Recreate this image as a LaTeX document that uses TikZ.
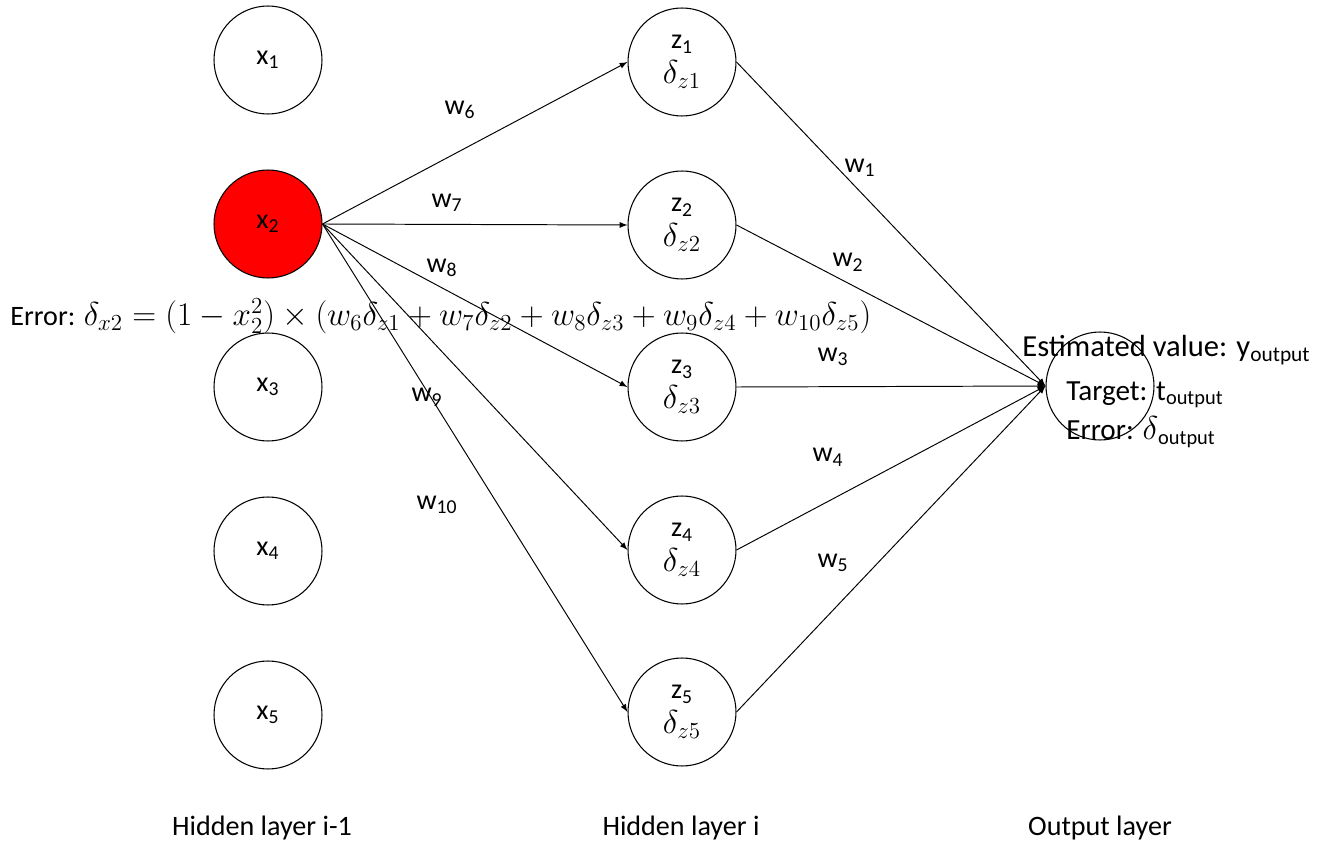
\documentclass[tikz,border=0pt]{standalone}
\usepackage{fontspec}
\setmainfont{Carlito}
\usetikzlibrary{arrows}

\newcommand{\bigmath}[1]{\scalebox{1.09}{\fontsize{17.28}{20}\selectfont #1}}

\tikzset{
  neuron/.style={draw, circle, minimum size=2.16cm, inner sep=0pt, line width=0.6pt, align=center},
  link/.style={-latex, line width=0.55pt},
}

\begin{document}
\begin{tikzpicture}[x=0.02cm, y=-0.02cm, font=\fontsize{16}{17}\selectfont]
        \useasboundingbox (0,0) rectangle (1319,844);

        % hidden layer i-1
        \node[neuron] (x1) at (268,60) {x\textsubscript{1}};
        \node[neuron, fill=red] (x2) at (268,224) {x\textsubscript{2}};
        \node[neuron] (x3) at (268,387) {x\textsubscript{3}};
        \node[neuron] (x4) at (268,551) {x\textsubscript{4}};
        \node[neuron] (x5) at (268,715) {x\textsubscript{5}};

        % hidden layer i
        \node[neuron] (z1) at (682,62) {z\textsubscript{1}\\[3pt]\bigmath{$\delta_{z1}$}};
        \node[neuron] (z2) at (682,225) {z\textsubscript{2}\\[3pt]\bigmath{$\delta_{z2}$}};
        \node[neuron] (z3) at (682,387) {z\textsubscript{3}\\[3pt]\bigmath{$\delta_{z3}$}};
        \node[neuron] (z4) at (682,550) {z\textsubscript{4}\\[3pt]\bigmath{$\delta_{z4}$}};
        \node[neuron] (z5) at (682,712) {z\textsubscript{5}\\[3pt]\bigmath{$\delta_{z5}$}};

        % output
        \node[neuron] (out) at (1100,386) {};

        \draw[link] (x2.east) -- (z1.west);
        \draw[link] (x2.east) -- (z2.west);
        \draw[link] (x2.east) -- (z3.west);
        \draw[link] (x2.east) -- (z4.west);
        \draw[link] (x2.east) -- (z5.west);

        \draw[link] (z1.east) -- (out.west);
        \draw[link] (z2.east) -- (out.west);
        \draw[link] (z3.east) -- (out.west);
        \draw[link] (z4.east) -- (out.west);
        \draw[link] (z5.east) -- (out.west);

        % weights
        \node (w6) at (460,110) {w\textsubscript{6}};
        \node (w7) at (447,203) {w\textsubscript{7}};
        \node (w8) at (442,268) {w\textsubscript{8}};
        \node (w9) at (427,397) {w\textsubscript{9}};
        \node (w10) at (437,505) {w\textsubscript{10}};
        \node (w1) at (860,168) {w\textsubscript{1}};
        \node (w2) at (848,262) {w\textsubscript{2}};
        \node (w3) at (833,357) {w\textsubscript{3}};
        \node (w4) at (828,457) {w\textsubscript{4}};
        \node (w5) at (833,563) {w\textsubscript{5}};

        % error of x2
        \node[anchor=west, inner sep=0pt] (err) at (10,316)
          {Error: \bigmath{$\delta_{x2} = (1-x_2^2)\times(w_6\delta_{z1}+w_7\delta_{z2}+w_8\delta_{z3}+w_9\delta_{z4}+w_{10}\delta_{z5})$}};

        % output values
        \node[anchor=west, inner sep=0pt, font=\fontsize{17.4}{18}\selectfont] (est) at (1022,350) {Estimated value: y\textsubscript{output}};
        \node[anchor=west, inner sep=0pt, font=\fontsize{16.6}{18}\selectfont] (tgt) at (1066,395) {Target: t\textsubscript{output}};
        \node[anchor=west, inner sep=0pt, font=\fontsize{16.6}{18}\selectfont] (oerr) at (1066,432) {Error: \bigmath{$\delta$}\textsubscript{output}};

        % layer names
        \node (l1) at (262,828) {Hidden layer i-1};
        \node (l2) at (681,828) {Hidden layer i};
        \node (l3) at (1100,828) {Output layer};
    \end{tikzpicture}
\end{document}
